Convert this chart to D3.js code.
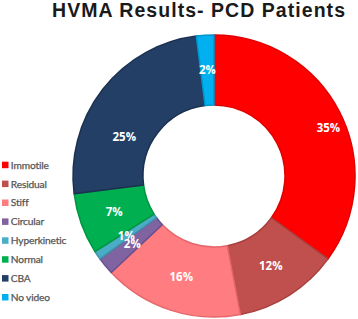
<!DOCTYPE html>
<html>
<head>
<meta charset="utf-8">
<script src="https://cdn.jsdelivr.net/npm/d3@7"></script>
<style>
    body { margin: 0; background: #fff; }
    svg { display: block; }
</style>
</head>
<body>
<div id="chart"></div>
<script>
// categories and values (percent), clockwise from 12 o'clock
const categories = ["Immotile", "Residual", "Stiff", "Circular", "Hyperkinetic", "Normal", "CBA", "No video"];
const percents = [35, 12, 16, 2, 1, 7, 25, 2];
const colors = ["#ff0000", "#c0504d", "#ff7c80", "#8064a2", "#4bacc6", "#00b050", "#243f66", "#00b0f0"];
const borders = ["#e00000", "#a8403d", "#e5676b", "#6a5090", "#3a93ab", "#009640", "#1b3152", "#0096cc"];
const title = "HVMA Results- PCD Patients";

const width = 358, height = 319;
const cx = 214, cy = 176, outerR = 141, innerR = 71;

const svg = d3.select("#chart").append("svg")
    .attr("width", width)
    .attr("height", height);

svg.append("text")
    .attr("x", 52)
    .attr("y", 16.5)
    .attr("textLength", 293)
    .attr("lengthAdjust", "spacing")
    .style("font-family", "'Liberation Sans', Arial, sans-serif")
    .style("font-weight", "bold")
    .style("font-size", "19.5px")
    .style("fill", "#1a1a1a")
    .text(title);

const data = categories.map((c, i) => ({ name: c, value: percents[i], i: i }));

const pie = d3.pie()
    .value(d => d.value)
    .sort(null);

const arc = d3.arc()
    .innerRadius(innerR)
    .outerRadius(outerR);

const labelArc = d3.arc()
    .innerRadius(106)
    .outerRadius(106);

const g = svg.append("g")
    .attr("transform", `translate(${cx}, ${cy})`);

const arcs = pie(data);

g.selectAll(".slice")
    .data(arcs)
    .enter().append("path")
    .attr("class", "slice")
    .attr("d", arc)
    .attr("fill", d => colors[d.data.i])
    .attr("stroke", d => borders[d.data.i])
    .attr("stroke-width", 1.5)
    .attr("stroke-linejoin", "round");

// excel's "best fit" labels sit a bit off the centroid for the two big slices
const nudge = { "Immotile": [20, 0], "CBA": [-6, 26] };

g.selectAll(".lbl")
    .data(arcs)
    .enter().append("text")
    .attr("class", "lbl")
    .attr("transform", d => {
        let [x, y] = labelArc.centroid(d);
        let n = nudge[d.data.name] || [0, 0];
        return `translate(${x + n[0]}, ${y + n[1]})`;
    })
    .attr("text-anchor", "middle")
    .attr("dy", "0.35em")
    .style("font-family", "'Open Sans', sans-serif")
    .style("font-weight", "bold")
    .style("font-size", "11.5px")
    .style("fill", "#fff")
    .text(d => d.data.value + "%");

// legend
const legend = svg.append("g")
    .attr("transform", "translate(2, 165)");

const rows = legend.selectAll(".row")
    .data(data)
    .enter().append("g")
    .attr("class", "row")
    .attr("transform", (d, i) => `translate(0, ${i * 18.9})`);

rows.append("rect")
    .attr("x", 0)
    .attr("y", -3.3)
    .attr("width", 6.5)
    .attr("height", 6.5)
    .attr("fill", d => colors[d.i]);

rows.append("text")
    .attr("x", 8.8)
    .attr("y", 0)
    .attr("dy", "0.36em")
    .style("font-family", "Lato, 'Open Sans', sans-serif")
    .style("font-size", "10.2px")
    .style("letter-spacing", "-0.15px")
    .style("fill", "#555")
    .style("stroke", "#555")
    .style("stroke-width", 0.25)
    .text(d => d.name);
</script>
</body>
</html>
